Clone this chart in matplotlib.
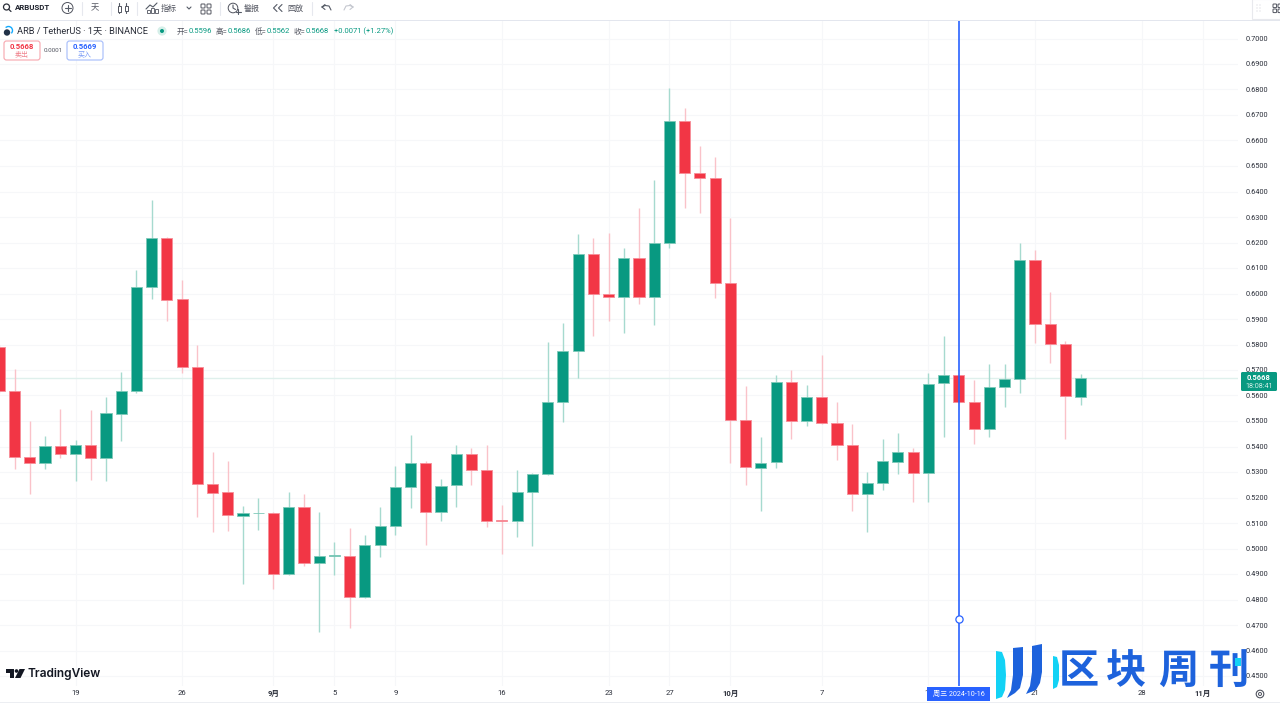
import matplotlib
matplotlib.use("Agg")
import matplotlib.pyplot as plt
from matplotlib.patches import FancyBboxPatch, Polygon, Circle, Rectangle, Arc
import pandas as pd

plt.rcParams['font.family'] = ['Roboto', 'Noto Sans CJK SC', 'DejaVu Sans']

START_DATE = "2024-08-14"
opens = [.5789,.5619,.5360,.5337,.5403,.5371,.5406,.5354,.5529,.5619,.6027,.6216,.5977,.5711,.5253,.5220,
         .5129,.5139,.5141,.4899,.5164,.4943,.4972,.4972,.4809,.5012,.5088,.5240,.5336,.5143,.5249,.5372,
         .5306,.5110,.5106,.5221,.5291,.5573,.5773,.6156,.6000,.5986,.6140,.5986,.6199,.6678,.6474,.6454,
         .6042,.5505,.5317,.5338,.5651,.5501,.5595,.5492,.5404,.5214,.5255,.5340,.5379,.5295,.5648,.5679,
         .5573,.5469,.5635,.5663,.6130,.5880,.5801,.5596]
highs = [.5800,.5704,.5501,.5441,.5546,.5426,.5543,.5596,.5692,.6092,.6367,.6222,.6053,.5799,.5377,.5342,
         .5167,.5197,.5145,.5223,.5214,.5142,.5026,.5079,.5053,.5163,.5323,.5445,.5342,.5271,.5406,.5394,
         .5406,.5172,.5308,.5295,.5811,.5883,.6233,.6216,.6238,.6178,.6335,.6445,.6806,.6727,.6578,.6536,
         .6295,.5637,.5436,.5680,.5700,.5640,.5757,.5574,.5488,.5301,.5428,.5453,.5395,.5688,.5835,.5680,
         .5661,.5724,.5724,.6197,.6171,.6006,.5814,.5686]
lows = [.5610,.5311,.5215,.5311,.5356,.5266,.5270,.5265,.5423,.5611,.5977,.5892,.5690,.5125,.5066,.5070,
        .4860,.5074,.4843,.4895,.4933,.4674,.4896,.4687,.4805,.4968,.5054,.5159,.5013,.5108,.5163,.5250,
        .5085,.4977,.5047,.5011,.5289,.5498,.5670,.5832,.5892,.5847,.5959,.5878,.6179,.6335,.6317,.5982,
        .5334,.5249,.5148,.5317,.5429,.5481,.5488,.5348,.5148,.5064,.5231,.5292,.5182,.5183,.5437,.5570,
        .5411,.5437,.5556,.5611,.5805,.5729,.5431,.5562]
closes = [.5618,.5360,.5334,.5402,.5371,.5406,.5354,.5530,.5618,.6027,.6216,.5976,.5711,.5254,.5219,.5130,
          .5139,.5141,.4900,.5164,.4943,.4972,.4973,.4809,.5012,.5088,.5240,.5335,.5143,.5247,.5372,.5306,
          .5109,.5108,.5223,.5293,.5574,.5774,.6156,.6000,.5986,.6140,.5985,.6199,.6678,.6472,.6454,.6042,
          .5505,.5318,.5336,.5651,.5500,.5595,.5492,.5404,.5215,.5255,.5343,.5379,.5295,.5646,.5679,.5573,
          .5469,.5635,.5663,.6130,.5880,.5801,.5598,.5668]

price_ticks = [.45,.46,.47,.48,.49,.50,.51,.52,.53,.54,.55,.56,.57,.58,.59,.60,.61,.62,.63,.64,.65,.66,.67,.68,.69,.70]
date_tick_dates = ["2024-08-19","2024-08-26","2024-09-01","2024-09-05","2024-09-09","2024-09-16","2024-09-23",
                   "2024-09-27","2024-10-01","2024-10-07","2024-10-14","2024-10-21","2024-10-28","2024-11-01"]
date_tick_labels = ["19","26","9月","5","9","16","23","27","10月","7","14","21","28","11月"]
MONTH_LABELS = {"9月","10月","11月"}
last_price = 0.5668
cursor_date = "2024-10-16"
cursor_price = 0.4724

GREEN, RED = "#089981", "#f23645"
GREEN_W, RED_W = "#a6dacf", "#fac2c9"
GREEN_E, RED_E = "#7fc9b9", "#f78d98"
BLUE = "#2962ff"
GRID = "#f6f7f9"
TEXT = "#2a2e39"

W, H = 1280, 708
fig = plt.figure(figsize=(W/100, H/100), dpi=100, facecolor="white")
L, R, T_, B = 0, 1238, 21, 686
ax = fig.add_axes([L/W, 1-B/H, (R-L)/W, (B-T_)/H])

day0 = pd.Timestamp(START_DATE)
def pos(d):
    return (pd.Timestamp(d) - day0).days

xs = list(range(len(opens)))
ax.vlines(xs, lows, highs,
          colors=[GREEN_W if c >= o else RED_W for o, c in zip(opens, closes)], linewidth=1.0, zorder=3)
bottoms = [min(o, c) for o, c in zip(opens, closes)]
heights = [abs(c - o) for o, c in zip(opens, closes)]
ax.bar(xs, heights, bottom=bottoms, width=0.73,
       color=[GREEN if c >= o else RED for o, c in zip(opens, closes)],
       edgecolor=[GREEN_E if c >= o else RED_E for o, c in zip(opens, closes)],
       linewidth=0.6, zorder=4)

spacing = 15.23
x_at_px0 = pos("2024-08-19") - 75.5/spacing
ax.set_xlim(x_at_px0, x_at_px0 + R/spacing)
y_top = 0.70 + (38.5 - T_)/2550
ax.set_ylim(0.70 - (B - 38.5)/2550, y_top)

ax.axhline(last_price, color="#dff0ec", lw=1.0, zorder=2)
cx = pos(cursor_date)
ax.axvline(cx, color=BLUE, lw=1.2, zorder=6)
ax.plot([cx], [cursor_price], marker="o", ms=5.2, mfc="white", mec=BLUE, mew=0.9, zorder=7)

ax.yaxis.tick_right()
ax.set_yticks(price_ticks)
ax.set_yticklabels([f"{p:.4f}" for p in price_ticks], fontsize=5.3, color=TEXT)
tick_pos = [pos(d) for d in date_tick_dates]
ax.set_xticks(tick_pos)
ax.set_xticklabels(date_tick_labels, fontsize=5.5, color=TEXT)
for lab in ax.get_xticklabels():
    if lab.get_text() in MONTH_LABELS:
        lab.set_fontweight("bold")
ax.tick_params(axis="y", length=0, pad=5.8)
ax.tick_params(axis="x", length=0, pad=3.0)
ax.grid(True, color=GRID, lw=0.8, zorder=0)
ax.set_axisbelow(True)
for s in ax.spines.values():
    s.set_visible(False)

# overlay in reference pixels for the chart-window chrome
ov = fig.add_axes([0, 0, 1, 1], zorder=10)
ov.set_xlim(0, W); ov.set_ylim(H, 0); ov.axis("off"); ov.patch.set_alpha(0)

def txt(x, y, s, size=5.6, color=TEXT, ha="left", weight="normal", **k):
    return ov.text(x, y, s, fontsize=size, color=color, ha=ha, va="center", fontweight=weight, **k)
def box(x0, y0, x1, y1, fc, ec="none", lw=0.8, r=2.5, z=2):
    p = FancyBboxPatch((x0+r, y0+r), x1-x0-2*r, y1-y0-2*r, boxstyle=f"round,pad={r}",
                       fc=fc, ec=ec, lw=lw, zorder=z)
    ov.add_patch(p)
def line(xa, ya, c="#555b66", lw=0.8, z=3):
    ov.plot(xa, ya, color=c, lw=lw, zorder=z, solid_capstyle="round")

# toolbar
ov.add_patch(Rectangle((0, 0), W, 19.5, fc="white", ec="none", zorder=1))
ov.add_patch(Rectangle((0, 19.5), W, 1.8, fc="#e3e6ee", ec="none", zorder=1))
ov.add_patch(Circle((6.5, 7), 3, fc="none", ec="#2a2e39", lw=0.9)); line([8.6, 11], [9.2, 11.5], "#2a2e39", 0.9)
txt(15, 8, "ARBUSDT", 5.7, "#1e222d", weight="bold")
ov.add_patch(Circle((67.5, 8), 5.5, fc="none", ec="#50535e", lw=0.7))
line([64.5, 70.5], [8, 8]); line([67.5, 67.5], [5, 11])
for sx in (81.5, 111, 137, 220, 312):
    line([sx, sx], [2, 15], "#e6e8ee", 0.8)
txt(95, 8, "天", 6.0, "#50535e", ha="center")
line([119, 119], [3, 13]); line([126, 126], [3, 13])
ov.add_patch(Rectangle((117.5, 5.5), 3, 6, fc="white", ec="#50535e", lw=0.7, zorder=4))
ov.add_patch(Rectangle((124.5, 5.5), 3, 5, fc="white", ec="#50535e", lw=0.7, zorder=4))
line([146, 150, 153, 157], [9, 5, 7, 3])
for bx, bh in ((147, 3), (151, 5), (155, 4)):
    ov.add_patch(Rectangle((bx, 13-bh), 2.5, bh, fc="none", ec="#50535e", lw=0.6, zorder=3))
txt(169, 8, "指标", 5.8, "#50535e", ha="center")
line([187, 189, 191], [7, 9, 7])
for gx in (201, 207):
    for gy in (4, 10):
        ov.add_patch(FancyBboxPatch((gx+.7, gy+.7), 2.6, 2.6, boxstyle="round,pad=0.7", fc="none", ec="#50535e", lw=0.7))
ov.add_patch(Circle((233, 8), 4.8, fc="none", ec="#50535e", lw=0.7))
line([233, 233, 235.5], [5, 8, 9.5]); line([238, 238], [9, 14]); line([235.5, 240.5], [11.5, 11.5])
txt(252, 8, "警报", 5.8, "#50535e", ha="center")
line([277, 273.5, 277], [4.5, 8, 11.5]); line([282, 278.5, 282], [4.5, 8, 11.5])
txt(295, 8, "回放", 5.8, "#50535e", ha="center")
line([322, 325, 329, 331], [7, 5.5, 6, 10]); line([322, 325], [7, 9.5]); line([322, 325], [7, 4.5])
line([353, 350, 346, 344], [7, 5.5, 6, 10], "#c4c7cf"); line([353, 350], [7, 9.5], "#c4c7cf"); line([353, 350], [7, 4.5], "#c4c7cf")
ov.add_patch(Rectangle((1252, -1), 28, 20, fc="white", ec="#e8e9ed", lw=0.8, zorder=2))
for dx in (1257, 1260):
    for dy in (5, 8, 11):
        ov.add_patch(Circle((dx, dy), 0.5, fc="#c4c7cf", ec="none", zorder=3))
for gx in (1273, 1278):
    for gy in (4, 9):
        ov.add_patch(FancyBboxPatch((gx+.7, gy+.7), 2.2, 2.2, boxstyle="round,pad=0.7", fc="none", ec="#50535e", lw=0.7, zorder=3))

# legend row
ov.add_patch(Circle((7, 32.5), 3.2, fc="#213147", ec="none", zorder=3))
ov.add_patch(Arc((8.5, 30.5), 8, 8, theta1=180, theta2=360, angle=45, ec="#12aaff", lw=1.0, zorder=3))
txt(17, 31, "ARB / TetherUS · 1天 · BINANCE", 6.65, "#2a2e39")
ov.add_patch(Circle((162, 31), 4.6, fc="#d5efe9", ec="none"))
ov.add_patch(Circle((162, 31), 2.0, fc=GREEN, ec="none", zorder=3))
for x, lab, val in ((177, "开", "0.5596"), (216, "高", "0.5686"), (255, "低", "0.5562"), (294, "收", "0.5668")):
    txt(x, 31, lab + "=", 5.5, "#50535e")
    txt(x + 12, 31, val, 5.5, GREEN)
txt(333.5, 31, "+0.0071 (+1.27%)", 5.5, GREEN)
box(4, 41, 40, 60, "white", "#f7a6ae")
txt(22, 46.5, "0.5668", 5.6, RED, ha="center", weight="bold")
txt(22, 55, "卖出", 5.0, "#f0848e", ha="center")
txt(53, 50, "0.0001", 4.5, "#50535e", ha="center")
box(67, 41, 103, 60, "white", "#a5bcfb")
txt(85, 46.5, "0.5669", 5.6, BLUE, ha="center", weight="bold")
txt(85, 55, "买入", 5.0, "#7a9bf7", ha="center")

# last-price tag and cursor tag
box(1241, 372, 1277, 391, GREEN, r=1.5)
txt(1259, 378.5, "0.5668", 5.4, "white", ha="center", weight="bold")
txt(1259, 386.5, "18:08:41", 5.1, "#d6f0ea", ha="center")
ov.add_patch(Rectangle((927, 687), 63, 13.5, fc=BLUE, ec="none", zorder=4))
txt(958.5, 694, "周三 2024-10-16", 5.1, "white", ha="center", zorder=5)

# bottom edge and settings glyph
ov.add_patch(Rectangle((0, 702), W, 1, fc="#eceef2", ec="none"))
ov.add_patch(Circle((1260, 694), 3.8, fc="none", ec="#50535e", lw=0.8))
ov.add_patch(Circle((1260, 694), 1.5, fc="none", ec="#50535e", lw=0.7))

# TradingView logo
DARK = "#131722"
ov.add_patch(Polygon([(6, 669), (14, 669), (14, 678), (10, 678), (10, 672.5), (6, 672.5)], fc=DARK, ec="none"))
ov.add_patch(Circle((16.5, 671), 1.8, fc=DARK, ec="none"))
ov.add_patch(Polygon([(19.5, 669), (25, 669), (20.5, 678), (15, 678)], fc=DARK, ec="none"))
txt(28, 673.5, "TradingView", 8.6, DARK, family=["Inter", "DejaVu Sans"], weight="semibold")

# magazine watermark
BRAND, CYAN = "#1d62dc", "#13d2f5"
ov.add_patch(Polygon([(996, 651), (1002, 652), (1005, 660), (1006, 675), (1005, 690), (1002, 697), (996, 699)], fc=CYAN, ec="none", zorder=6))
ov.add_patch(Polygon([(1013, 648), (1023, 647), (1023, 675), (1020, 688), (1015, 693), (1007, 698), (1011, 690), (1013, 675)], fc=BRAND, ec="none", zorder=6))
ov.add_patch(Polygon([(1032, 646), (1042, 644), (1042, 672), (1040, 683), (1036, 690), (1026, 694), (1030, 686), (1032, 672)], fc=BRAND, ec="none", zorder=6))
ov.add_patch(Polygon([(1053, 656), (1057, 657), (1059, 665), (1059, 680), (1057, 687), (1053, 689)], fc=CYAN, ec="none", zorder=6))
for ch, cxp in zip("区块周刊", (1079, 1126, 1178, 1229)):
    ov.text(cxp, 671.5, ch, fontsize=29, color=BRAND, ha="center", va="center", fontweight="bold",
            family=["Noto Sans CJK SC", "DejaVu Sans"], zorder=6)
ov.add_patch(Rectangle((1235, 658), 6, 8, fc=CYAN, ec="none", zorder=7))

fig.savefig("out.png", dpi=100, facecolor="white")
